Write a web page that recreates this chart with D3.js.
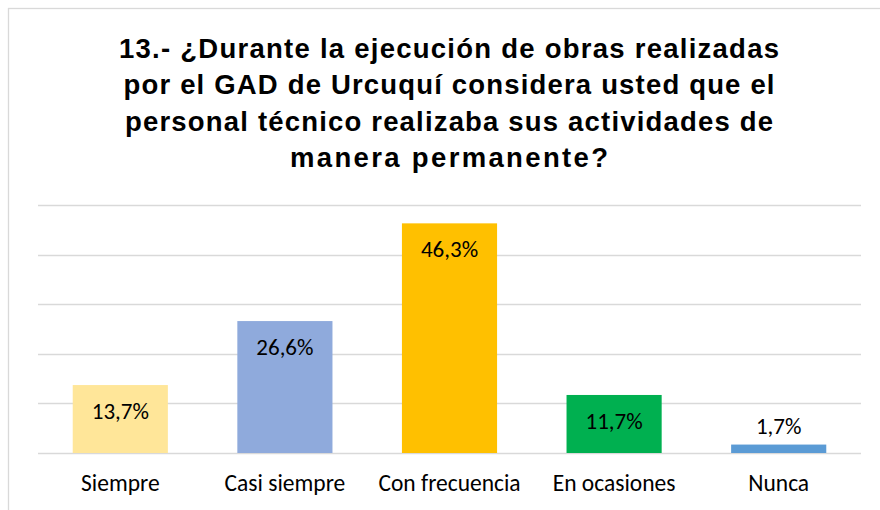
<!DOCTYPE html>
<html>
<head>
<meta charset="utf-8">
<script src="https://cdn.jsdelivr.net/npm/d3@7"></script>
<style>
  body { margin: 0; background: #fff; }
  svg { display: block; }
  .title { font-family: "Liberation Sans", Arial, sans-serif; font-weight: bold; font-size: 27.5px; fill: #000; }
  .cat, .val { font-family: Carlito, Calibri, Lato, sans-serif; fill: #000; }
</style>
</head>
<body>
<svg id="chart"></svg>
<script>
const categories = ["Siempre", "Casi siempre", "Con frecuencia", "En ocasiones", "Nunca"];
const values = [13.7, 26.6, 46.3, 11.7, 1.7];
const valueLabels = ["13,7%", "26,6%", "46,3%", "11,7%", "1,7%"];
const colors = ["#FFE699", "#8FAADC", "#FFC000", "#00B050", "#5B9BD5"];
const gridTicks = [0, 10, 20, 30, 40, 50];
const titleLines = [
  "13.- ¿Durante la ejecución de obras realizadas",
  "por el GAD de Urcuquí considera usted que el",
  "personal técnico realizaba sus actividades de",
  "manera permanente?"
];
// anchos de cada línea del título (la fuente original es más ancha)
const titleWidths = [660, 651, 648, 318];

const width = 880, height = 510;
const margin = {top: 205, right: 19, bottom: 57, left: 38};

const svg = d3.select("#chart").attr("width", width).attr("height", height);

// marco del gráfico
svg.append("rect")
  .attr("x", 8.5).attr("y", 8.5)
  .attr("width", width + 10).attr("height", height + 10)
  .attr("fill", "#fff")
  .attr("stroke", "#d9d9d9")
  .attr("stroke-width", 1.3);

// título
svg.append("text")
  .attr("class", "title")
  .attr("text-anchor", "middle")
  .selectAll("tspan")
  .data(titleLines)
  .enter()
  .append("tspan")
  .attr("x", 449)
  .attr("y", (d, i) => 57.5 + i * 36.5)
  .attr("textLength", (d, i) => titleWidths[i])
  .attr("lengthAdjust", "spacing")
  .text(d => d);

const x = d3.scaleBand()
  .domain(categories)
  .range([margin.left, width - margin.right])
  .paddingInner(0.422)
  .paddingOuter(0.211);

const y = d3.scaleLinear()
  .domain([0, 50])
  .range([height - margin.bottom, margin.top]);

// líneas de cuadrícula
svg.append("g")
  .selectAll("line")
  .data(gridTicks)
  .enter()
  .append("line")
  .attr("x1", margin.left)
  .attr("x2", width - margin.right)
  .attr("y1", d => Math.round(y(d)) + 0.5)
  .attr("y2", d => Math.round(y(d)) + 0.5)
  .attr("stroke", "#d9d9d9")
  .attr("stroke-width", 1.3);

// barras
svg.selectAll(".bar")
  .data(values)
  .enter()
  .append("rect")
  .attr("class", "bar")
  .attr("x", (d, i) => x(categories[i]))
  .attr("y", d => y(d))
  .attr("width", x.bandwidth())
  .attr("height", d => y(0) - y(d))
  .attr("fill", (d, i) => colors[i]);

// etiquetas de valores
svg.selectAll(".val")
  .data(values)
  .enter()
  .append("text")
  .attr("class", "val")
  .attr("x", (d, i) => x(categories[i]) + x.bandwidth() / 2)
  .attr("y", d => (y(0) - y(d) > 45) ? y(d) + 34 : y(d) - 11)
  .attr("text-anchor", "middle")
  .style("font-size", "23px")
  .text((d, i) => valueLabels[i]);

// eje de categorías
const xAxis = svg.append("g")
  .attr("transform", `translate(0,${y(0)})`)
  .call(d3.axisBottom(x).tickSize(0).tickPadding(0));
xAxis.select(".domain").remove();
xAxis.selectAll("text")
  .attr("class", "cat")
  .attr("dy", 0)
  .attr("y", 38)
  .style("font-size", "23.5px")
  .style("font-family", "Carlito, Calibri, Lato, sans-serif")
  .attr("fill", "#000");
</script>
</body>
</html>
